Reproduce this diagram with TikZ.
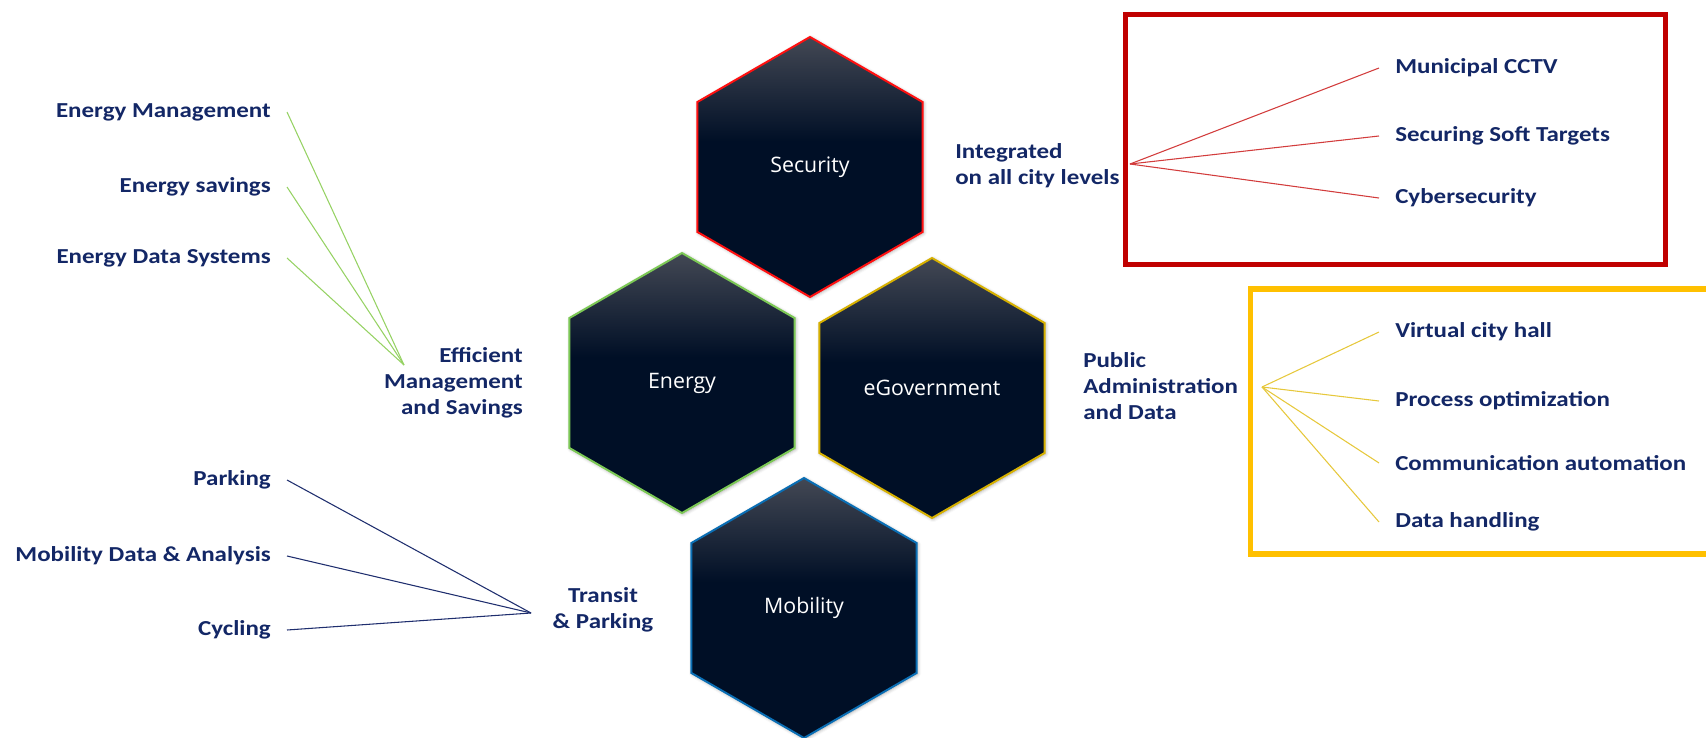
\documentclass[tikz,border=0pt]{standalone}
\usepackage{fontspec}
\setmainfont{Carlito}[FakeStretch=1.17]
\newfontfamily\hexfont{Open Sans}
\usetikzlibrary{shapes.geometric, positioning, shadows.blur}

\definecolor{navytext}{HTML}{132766}
\definecolor{hexdark}{HTML}{000F26}
\definecolor{hextop}{HTML}{434854}
\definecolor{secred}{HTML}{FF1010}
\definecolor{enegreen}{HTML}{7CC855}
\definecolor{govgold}{HTML}{D6B000}
\definecolor{mobblue}{HTML}{0A6EB4}
\definecolor{boxred}{HTML}{C00000}
\definecolor{boxgold}{HTML}{FFC000}
\definecolor{redline}{HTML}{D23C3C}
\definecolor{goldline}{HTML}{E6C83C}
\definecolor{greenline}{HTML}{96D264}
\definecolor{navyline}{HTML}{1F2E6E}

\pgfdeclareverticalshading{hexshade}{100bp}{color(0bp)=(hexdark); color(55bp)=(hexdark); color(75bp)=(hextop); color(100bp)=(hextop)}

\begin{document}
\begin{tikzpicture}[x=0.75pt, y=-0.75pt,
    hexagon/.style={regular polygon, regular polygon sides=6, shape border rotate=30,
        minimum size=195pt, inner sep=0pt, line width=1.5pt, shading=hexshade,
        blur shadow={shadow xshift=0.8pt, shadow yshift=-0.8pt, shadow blur radius=2.5pt, shadow opacity=35},
        text=white, font=\hexfont\fontsize{16}{19}\selectfont},
    item/.style={text=navytext, font=\bfseries\fontsize{16}{19.5}\selectfont, inner xsep=12pt, inner ysep=0pt},
    group/.style={item, inner sep=0pt},
    spoke/.style={line width=0.8pt}]

        \useasboundingbox (0,0) rectangle (1706,738);

        % Hexagons
        \node[hexagon, draw=secred] (sec) at (810,167) {Security};
        \node[hexagon, draw=enegreen] (ene) at (682,383) {Energy};
        \node[hexagon, draw=govgold] (egov) at (932,388) {eGovernment};
        \node[hexagon, draw=mobblue] (mob) at (804,608) {Mobility};

        % Boxes
        \draw[line width=3.75pt, draw=boxred] (1125.3,14.2) rectangle (1665,264.2);
        \draw[line width=4.2pt, draw=boxgold] (1720,289) -- (1250.5,289) -- (1250.5,553.7) -- (1720,553.7);

        % Energy side
        \node[group, anchor=east, align=right] (eneg) at (523,383) {Efficient\\Management\\and Savings};
        \coordinate (hubE) at (404,365);
        \node[item, anchor=east] (em) at (287,112) {Energy Management};
        \node[item, anchor=east] (es) at (287,187) {Energy savings};
        \node[item, anchor=east] (eds) at (287,258) {Energy Data Systems};
        \foreach \n in {em,es,eds}
            \draw[spoke, greenline] (hubE) -- (\n.east);

        % Security side
        \node[group, anchor=west, align=left] (secg) at (955,166) {Integrated\\on all city levels};
        \coordinate (hubS) at (1130,164);
        \node[item, anchor=west] (cctv) at (1379,68) {Municipal CCTV};
        \node[item, anchor=west] (soft) at (1379,136) {Securing Soft Targets};
        \node[item, anchor=west] (cyber) at (1379,198) {Cybersecurity};
        \foreach \n in {cctv,soft,cyber}
            \draw[spoke, redline] (hubS) -- (\n.west);

        % eGovernment side
        \node[group, anchor=west, align=left] (govg) at (1083,386) {Public\\Administration\\and Data};
        \coordinate (hubG) at (1262,387);
        \node[item, anchor=west] (hall) at (1379,332) {Virtual city hall};
        \node[item, anchor=west] (proc) at (1379,401) {Process optimization};
        \node[item, anchor=west] (comm) at (1379,463) {Communication automation};
        \node[item, anchor=west] (data) at (1379,522) {Data handling};
        \foreach \n in {hall,proc,comm,data}
            \draw[spoke, goldline] (hubG) -- (\n.west);

        % Mobility side
        \node[group, align=center] (mobg) at (603,610) {Transit\\\& Parking};
        \coordinate (hubM) at (531,613);
        \node[item, anchor=east] (park) at (287,480) {Parking};
        \node[item, anchor=east] (mda) at (287,556) {Mobility Data \& Analysis};
        \node[item, anchor=east] (cyc) at (287,630) {Cycling};
        \foreach \n in {park,mda,cyc}
            \draw[spoke, navyline] (hubM) -- (\n.east);

\end{tikzpicture}
\end{document}
